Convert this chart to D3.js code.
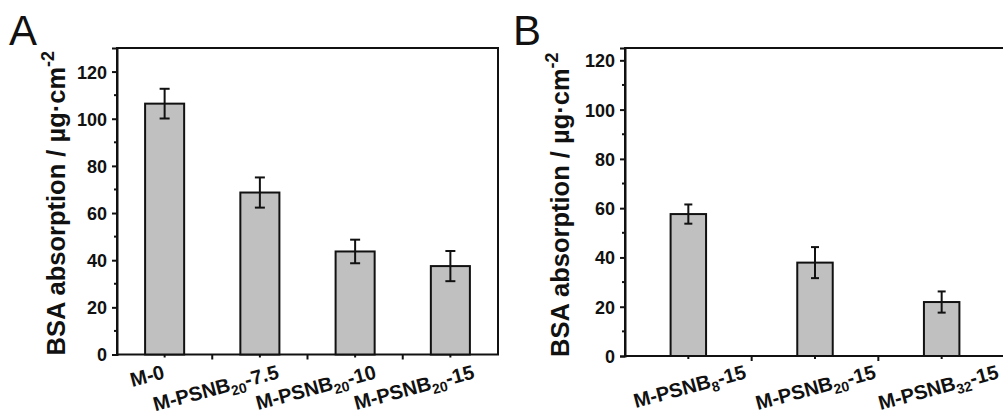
<!DOCTYPE html>
<html>
<head>
<meta charset="utf-8">
<script src="https://cdn.jsdelivr.net/npm/d3@7"></script>
<style>
  body { margin: 0; background: #fff; }
  text { font-family: "Liberation Sans", Arial, sans-serif; }
</style>
</head>
<body>
<svg id="chart" width="1003" height="414"></svg>
<script>
// ---- data ----
// category labels: [main, subscript, tail]
var catsA = [['M-0', '', ''], ['M-PSNB', '20', '-7.5'], ['M-PSNB', '20', '-10'], ['M-PSNB', '20', '-15']];
var valuesA = [106.4, 68.7, 43.7, 37.5];
var errorsA = [6.3, 6.4, 5.0, 6.4];

var catsB = [['M-PSNB', '8', '-15'], ['M-PSNB', '20', '-15'], ['M-PSNB', '32', '-15']];
var valuesB = [57.6, 37.9, 21.9];
var errorsB = [3.9, 6.3, 4.3];

var yTicks = [0, 20, 40, 60, 80, 100, 120];
var yTitle = 'BSA absorption / \u00b5g\u00b7cm';
var yTitleSup = '-2';

var svg = d3.select('#chart');

function drawPanel(p) {
    var g = svg.append('g');
    var x = d3.scaleBand()
        .domain(d3.range(p.values.length))
        .range([p.left, p.right])
        .padding(0);
    var y = d3.scaleLinear().domain([0, p.yMax]).range([p.bottom, p.top]);
    var bw = x.bandwidth() * p.barFrac;

    // frame
    g.append('rect')
        .attr('x', p.left).attr('y', p.top)
        .attr('width', p.right - p.left).attr('height', p.bottom - p.top)
        .attr('fill', 'none').attr('stroke', '#111').attr('stroke-width', 2);

    // y axis
    var yAxis = d3.axisLeft(y).tickValues(yTicks).tickSize(5).tickPadding(5);
    var ya = g.append('g').attr('transform', 'translate(' + p.left + ',0)').call(yAxis);
    ya.attr('font-family', null).attr('font-size', null);
    ya.select('.domain').attr('stroke', '#111').attr('stroke-width', 2);
    ya.selectAll('.tick line').attr('stroke', '#111').attr('stroke-width', 2);
    ya.selectAll('.tick text')
        .attr('font-size', 18).attr('font-weight', 'bold').attr('fill', '#111')
        .attr('dy', '0.36em');
    var minorY = d3.range(10, p.yMax, 20);
    g.selectAll('.ymin').data(minorY).enter().append('line')
        .attr('x1', p.left - 3).attr('x2', p.left)
        .attr('y1', function(d) { return y(d); }).attr('y2', function(d) { return y(d); })
        .attr('stroke', '#111').attr('stroke-width', 2);

    // x ticks: major between bars, minor at bar centres
    var majors = d3.range(1, p.values.length).map(function(i) { return x(i); });
    g.selectAll('.xmaj').data(majors).enter().append('line')
        .attr('x1', function(d) { return d; }).attr('x2', function(d) { return d; })
        .attr('y1', p.bottom).attr('y2', p.bottom + 5)
        .attr('stroke', '#111').attr('stroke-width', 2);
    g.selectAll('.xmin').data(d3.range(p.values.length)).enter().append('line')
        .attr('x1', function(i) { return x(i) + x.bandwidth() / 2; })
        .attr('x2', function(i) { return x(i) + x.bandwidth() / 2; })
        .attr('y1', p.bottom).attr('y2', p.bottom + 3)
        .attr('stroke', '#111').attr('stroke-width', 2);

    // bars
    g.selectAll('.bar').data(p.values).enter().append('rect')
        .attr('x', function(d, i) { return x(i) + x.bandwidth() / 2 - bw / 2; })
        .attr('y', function(d) { return y(d); })
        .attr('width', bw)
        .attr('height', function(d) { return y(0) - y(d); })
        .attr('fill', '#c0c0c0').attr('stroke', '#111').attr('stroke-width', 2);

    // error bars
    var eb = g.selectAll('.err').data(p.values).enter().append('g');
    eb.append('line')
        .attr('x1', function(d, i) { return x(i) + x.bandwidth() / 2; })
        .attr('x2', function(d, i) { return x(i) + x.bandwidth() / 2; })
        .attr('y1', function(d, i) { return y(d + p.errors[i]); })
        .attr('y2', function(d, i) { return y(d - p.errors[i]); })
        .attr('stroke', '#111').attr('stroke-width', 2);
    [1, -1].forEach(function(s) {
        eb.append('line')
            .attr('x1', function(d, i) { return x(i) + x.bandwidth() / 2 - p.cap / 2; })
            .attr('x2', function(d, i) { return x(i) + x.bandwidth() / 2 + p.cap / 2; })
            .attr('y1', function(d, i) { return y(d + s * p.errors[i]); })
            .attr('y2', function(d, i) { return y(d + s * p.errors[i]); })
            .attr('stroke', '#111').attr('stroke-width', 2);
    });

    // category labels, slanted
    var lab = g.selectAll('.lab').data(p.cats).enter().append('text')
        .attr('transform', function(d, i) {
            var cx = x(i) + x.bandwidth() / 2 + p.labelDx[i];
            return 'translate(' + cx + ',' + p.labelY + ') rotate(-15)';
        })
        .attr('text-anchor', 'end')
        .attr('font-size', 20).attr('font-weight', 'bold').attr('fill', '#111');
    lab.append('tspan').text(function(d) { return d[0]; });
    lab.append('tspan').attr('font-size', 14).attr('dy', 5).text(function(d) { return d[1]; });
    lab.append('tspan').attr('dy', function(d) { return d[1] ? -5 : 0; }).text(function(d) { return d[2]; });

    // y title
    var t = g.append('text')
        .attr('transform', 'translate(' + p.titleX + ',' + (p.bottom + 1) + ') rotate(-90)')
        .attr('font-size', 25.5).attr('font-weight', 'bold').attr('fill', '#111');
    t.append('tspan').text(yTitle);
    t.append('tspan').attr('font-size', 18).attr('dy', -11).text(yTitleSup);

    // panel letter
    g.append('text')
        .attr('x', p.letterX).attr('y', 45)
        .attr('font-size', 42).attr('fill', '#111')
        .text(p.letter);
}

drawPanel({
    letter: 'A', letterX: 9,
    left: 117, right: 498, top: 48, bottom: 354.5, yMax: 130,
    cats: catsA, values: valuesA, errors: errorsA,
    barFrac: 0.41, cap: 10,
    labelDx: [1, 20, 22, 25], labelY: 378,
    titleX: 65
});

drawPanel({
    letter: 'B', letterX: 513,
    left: 625, right: 1005, top: 48, bottom: 356, yMax: 125,
    cats: catsB, values: valuesB, errors: errorsB,
    barFrac: 0.28, cap: 8,
    labelDx: [59, 62, 58], labelY: 378,
    titleX: 569
});
</script>
</body>
</html>
